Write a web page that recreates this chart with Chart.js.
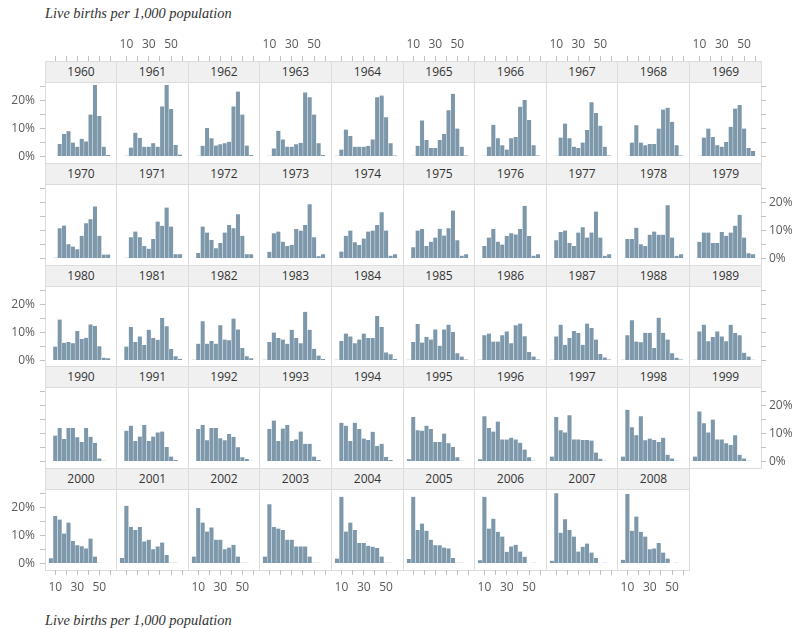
<!DOCTYPE html>
<html>
<head>
<meta charset="utf-8">
<script src="https://cdn.jsdelivr.net/npm/chart.js@4.4.0/dist/chart.umd.min.js"></script>
<style>
  body { margin: 0; background: #fff; width: 792px; height: 628px; overflow: hidden; position: relative; font-family: "Open Sans", sans-serif; }
  .title { position: absolute; left: 45px; font: italic 14.4px "Liberation Serif", serif; color: #333; white-space: nowrap; }
  .panel { position: absolute; box-sizing: border-box; border: 1px solid #dcdcdc; }
  .head { height: 21px; box-sizing: border-box; background: #f0f0f0; border-bottom: 1px solid #dcdcdc; text-align: center; font-size: 12px; line-height: 20px; color: #333; }
  canvas { position: absolute; }
</style>
</head>
<body>
<div class="title" style="top:5px">Live births per 1,000 population</div>
<div class="title" style="top:612px">Live births per 1,000 population</div>
<script>
// bins of 4 births per 1,000, starting at 4
const binStarts = [4, 8, 12, 16, 20, 24, 28, 32, 36, 40, 44, 48, 52, 56];
const xTicks = [10, 20, 30, 40, 50, 60];
const xLabels = [10, 30, 50];
const yTicks = [0, 5, 10, 15, 20, 25];
const yLabels = [0, 10, 20];

// share of countries (%) in each bin, one row per year
const years1960s = [1960, 1961, 1962, 1963, 1964, 1965, 1966, 1967, 1968, 1969];
const share1960s = [
  [0.2, 0.2, 4.5, 8, 9, 5, 3.5, 6.3, 5.4, 15, 25.5, 14.5, 3.5, 0.5],
  [0.2, 0.3, 3.2, 8.5, 6.7, 3.5, 3.5, 4.7, 3.5, 17.9, 25.5, 17, 4.1, 0.7],
  [0.2, 0.3, 3.8, 10.2, 6.5, 3.9, 4.4, 4.7, 5.3, 17.9, 23.2, 15, 3.9, 0.5],
  [0.2, 0.3, 2.9, 9.2, 6.1, 3.5, 3.5, 4.4, 4.9, 22.9, 21.2, 15, 4.7, 0.5],
  [0.3, 2.5, 9.6, 7.3, 3.5, 3.5, 3.5, 3.8, 6.1, 21.2, 21.8, 14, 4.7, 0.4],
  [0, 0.3, 3.8, 12.9, 5.9, 3, 3, 5.9, 8, 16.5, 22.4, 10, 3.5, 0.4],
  [0, 0.3, 3.5, 11.3, 6.5, 4, 2.5, 6.5, 7, 17.8, 20.2, 13, 4, 0.4],
  [0, 0.3, 6.8, 11.8, 6.5, 3.5, 3, 5, 9.5, 19.4, 15.5, 11, 3.5, 0.4],
  [0, 0.3, 5, 11.2, 5, 4, 4.5, 4.5, 10, 16.8, 17.4, 12.4, 4, 0.4],
  [0, 0.3, 6.8, 10, 7, 4, 3.5, 5.2, 10.6, 17.1, 18.4, 10, 3, 2]
];
const years1970s = [1970, 1971, 1972, 1973, 1974, 1975, 1976, 1977, 1978, 1979];
const share1970s = [
  [0, 0.3, 10.8, 11.8, 5.1, 4.3, 3.3, 8.1, 12.6, 14, 18.6, 8.1, 1.4, 1.4],
  [0, 0.3, 7.6, 9.6, 7.6, 4.5, 3.5, 7, 13.2, 11.7, 18.2, 11.4, 1.5, 1.5],
  [0, 2, 11.4, 9.3, 6.6, 3.7, 5.5, 9.3, 12, 10.8, 15.8, 8.1, 1.5, 1.5],
  [0, 2.4, 9, 9.6, 6, 4.5, 4.9, 10.5, 10, 12, 19.4, 7.6, 0.8, 1.5],
  [0, 2.5, 8.1, 10, 5.8, 4.8, 7.1, 9.6, 10, 12, 16.5, 10, 1, 1.5],
  [0, 4, 10, 10.5, 4.5, 6, 7.5, 10.6, 8.2, 10.8, 17.1, 6.5, 1, 1.5],
  [0, 4.5, 7.5, 10.5, 6, 5, 8, 9, 8.6, 10.5, 18.8, 8, 1, 1.5],
  [0, 6.5, 9.5, 10, 5.5, 4.5, 9.3, 11.2, 7.5, 9.3, 16.8, 7.5, 1, 1.5],
  [0, 7, 7, 11, 5.1, 4.5, 8.5, 9.6, 8.5, 8.5, 19, 7.5, 1, 1.5],
  [0, 6, 9.3, 9.3, 5.5, 5.5, 9.5, 8.1, 9.3, 11.7, 15.6, 7.5, 1.9, 1.5]
];
const years1980s = [1980, 1981, 1982, 1983, 1984, 1985, 1986, 1987, 1988, 1989];
const share1980s = [
  [0, 5, 14.6, 6.3, 6.6, 6.2, 10.5, 7.7, 8.1, 12.9, 12.3, 5.1, 1, 0.8],
  [0, 5, 12, 6.6, 8.6, 5.5, 11, 8, 7.4, 15.2, 12.2, 4.1, 1.5, 0.6],
  [0.3, 6, 14, 6, 7, 6, 12.6, 7.5, 7.2, 15, 11.1, 4.5, 1.5, 0.8],
  [0.3, 6.6, 10, 8, 7.5, 6, 11, 8, 6.2, 17.4, 11, 4.2, 1.8, 0.5],
  [0.3, 7, 9.6, 8.6, 6.2, 7.5, 9.6, 8, 8, 15.9, 12, 2.9, 2.2, 0.5],
  [0.3, 6.6, 13, 6.4, 8.4, 7.5, 11.1, 5.3, 11.1, 12.8, 10.2, 2.6, 1.4, 0.4],
  [0.3, 9, 9.6, 6.8, 6.8, 9, 10.4, 6.2, 12.6, 13.2, 8.7, 3, 1.4, 0.4],
  [0.3, 8.6, 12.8, 5.6, 8, 10.5, 9.8, 5.6, 13.2, 11.6, 7.5, 2.3, 1.1, 0.4],
  [0.3, 9, 14.4, 6.8, 6.5, 9.9, 9.9, 4.5, 15.3, 9.9, 7.5, 2.6, 1, 0.4],
  [0.3, 10.4, 12.8, 6.9, 8.4, 10.4, 8.6, 6.9, 12.8, 9.8, 9, 2.8, 1.4, 0.3]
];
const years1990s = [1990, 1991, 1992, 1993, 1994, 1995, 1996, 1997, 1998, 1999];
const share1990s = [
  [0, 9.3, 12, 8, 12, 12, 8.7, 7, 12, 8.8, 6.7, 1.1, 0.3, 0],
  [0, 11, 12.8, 7.3, 8.9, 13, 7.3, 8.9, 10.4, 10.7, 5.2, 1.8, 0.5, 0],
  [0, 11.6, 13, 7.6, 12, 12, 8.3, 7.6, 9.8, 8.8, 5.1, 1.5, 0.9, 0.3],
  [0, 11.6, 14.6, 7.3, 11.8, 13, 7.3, 7.9, 10.7, 6.3, 6.3, 1.8, 0.5, 0],
  [0, 13.8, 12.8, 7.3, 13.8, 11.6, 8.2, 7.7, 10.6, 5.5, 6.3, 1.6, 0.5, 0],
  [0.8, 15.9, 11.2, 11, 12.8, 11.6, 7, 7, 10, 6.5, 5.2, 1.5, 0.3, 0],
  [0.8, 16.2, 12, 10.7, 14.3, 7.9, 7.9, 8.5, 7.9, 6.7, 4.3, 1.5, 0.3, 0],
  [1.8, 15.9, 11.2, 10.4, 16.5, 7.9, 7.9, 7.7, 7.7, 7.5, 3.2, 1, 0.3, 0],
  [1.8, 18.5, 12.2, 9.4, 16.2, 7.6, 8.2, 7.7, 7, 8.5, 2.4, 1.1, 0.3, 0],
  [1.8, 17.9, 13.7, 10.4, 15, 7.9, 7.9, 6.5, 5.9, 9.4, 2.4, 1.1, 0.3, 0]
];
const years2000s = [2000, 2001, 2002, 2003, 2004, 2005, 2006, 2007, 2008];
const share2000s = [
  [1.9, 17, 15.7, 10.7, 14.6, 8, 6.5, 6.2, 5.4, 8.9, 2.5, 0.3, 0.2, 0],
  [2, 20.6, 13, 12, 13, 7.9, 8.5, 5.1, 6.1, 7.5, 3, 0.3, 0.3, 0],
  [2.5, 19.8, 14.6, 11.4, 12.9, 8.5, 8.5, 5.1, 5.7, 6.7, 2.5, 0.3, 0.3, 0],
  [2.5, 21.2, 13, 12.5, 12, 8.5, 8.5, 6.1, 6.1, 6.1, 2.5, 0.3, 0.3, 0],
  [1.8, 23.8, 11.4, 14.6, 12, 7.3, 7.3, 6.3, 6, 5.5, 2.5, 0.3, 0.3, 0],
  [1.6, 23.8, 12, 14.3, 11.7, 8.5, 6.5, 6.5, 5.7, 5.4, 2, 0.3, 0.3, 0],
  [1.2, 23.8, 12.5, 16, 11.3, 9.6, 4.2, 6.1, 6.7, 4.3, 2.4, 0, 0.3, 0],
  [1, 25.1, 11, 15.8, 12, 9.6, 4.3, 6, 7.1, 3.9, 2, 0, 0.3, 0],
  [1.3, 24.8, 11.7, 16.8, 11.3, 9.6, 5.1, 5.4, 7.3, 3.9, 1.8, 0, 0.3, 0]
];

const rowYears = [years1960s, years1970s, years1980s, years1990s, years2000s];
const rowShares = [share1960s, share1970s, share1980s, share1990s, share2000s];

// trellis geometry
const gridLeft = 45, colStep = 71.6;
const rowTops = [61, 163, 265, 366, 468];
const rowHeights = [102, 102, 101, 102, 102];
const zeroFromTop = 95.5, pxPerPct = 2.8;
const pad = 45;
const tickFont = { family: "Open Sans", size: 12 };
const tickGrey = "#c2c2c2", clear = "rgba(0,0,0,0)";

const colLeft = c => Math.floor(gridLeft + c * colStep);

function panel(year, values, c, r) {
  const L = colLeft(c), W = colLeft(c + 1) - L;
  const T = rowTops[r], H = rowHeights[r];

  const box = document.createElement("div");
  box.className = "panel";
  box.style.cssText = `left:${L}px;top:${T}px;width:${W + 1}px;height:${H + 1}px`;
  box.innerHTML = `<div class="head">${year}</div>`;
  document.body.appendChild(box);

  const cv = document.createElement("canvas");
  cv.width = W + 2 * pad;
  cv.height = H + 2 * pad;
  cv.style.left = (L - pad) + "px";
  cv.style.top = (T - pad) + "px";
  document.body.appendChild(cv);

  const leftOn = c === 0, rightOn = c === 9;
  const topOn = r === 0, bottomOn = r === 4;
  const leftLab = leftOn && r % 2 === 0, rightLab = rightOn && r % 2 === 1;
  const topLab = topOn && c % 2 === 1, bottomLab = bottomOn && c % 2 === 0;

  const yMin = -(H - zeroFromTop) / pxPerPct, yMax = zeroFromTop / pxPerPct;
  const xMin = 0.7, xMax = 65.1;

  const yAxis = (pos, on, lab) => ({
    type: "linear", position: pos, axis: "y", min: yMin, max: yMax,
    afterFit: s => { s.width = pad; },
    afterBuildTicks: s => { s.ticks = yTicks.map(v => ({ value: v })); },
    grid: { drawOnChartArea: false, tickLength: 5, color: on ? tickGrey : clear },
    border: { display: false },
    ticks: {
      autoSkip: false, font: tickFont, color: "#5a5a5a", padding: pos === "left" ? 5 : 3,
      callback: v => (lab && yLabels.includes(v)) ? v + "%" : ""
    }
  });
  const xAxis = (pos, on, lab) => ({
    type: "linear", position: pos, axis: "x", min: xMin, max: xMax,
    offset: false,
    afterFit: s => { s.height = pad; },
    afterBuildTicks: s => { s.ticks = xTicks.map(v => ({ value: v })); },
    grid: { drawOnChartArea: false, offset: false, tickLength: 5, color: on ? tickGrey : clear },
    border: { display: false },
    ticks: {
      autoSkip: false, maxRotation: 0, font: tickFont, color: "#5a5a5a", padding: pos === "top" ? 4 : 5,
      callback: v => (lab && xLabels.includes(v)) ? String(v) : ""
    }
  });

  new Chart(cv, {
    type: "bar",
    data: {
      datasets: [{
        data: values.map((v, i) => ({ x: binStarts[i] + 2, y: v })),
        backgroundColor: "#7d98ab",
        borderColor: "rgba(255,255,255,0.35)",
        borderWidth: { left: 0.5, right: 0.5, top: 0, bottom: 0 },
        barPercentage: 1,
        categoryPercentage: 1,
        xAxisID: "x",
        yAxisID: "y"
      }]
    },
    options: {
      responsive: false,
      animation: false,
      events: [],
      layout: { padding: 0 },
      plugins: { legend: { display: false }, tooltip: { enabled: false } },
      scales: {
        x: xAxis("bottom", bottomOn, bottomLab),
        x2: xAxis("top", topOn, topLab),
        y: yAxis("left", leftOn, leftLab),
        y2: yAxis("right", rightOn, rightLab)
      }
    }
  });
}

rowYears.forEach((yrs, r) => {
  yrs.forEach((yr, c) => panel(yr, rowShares[r][c], c, r));
});
</script>
</body>
</html>
